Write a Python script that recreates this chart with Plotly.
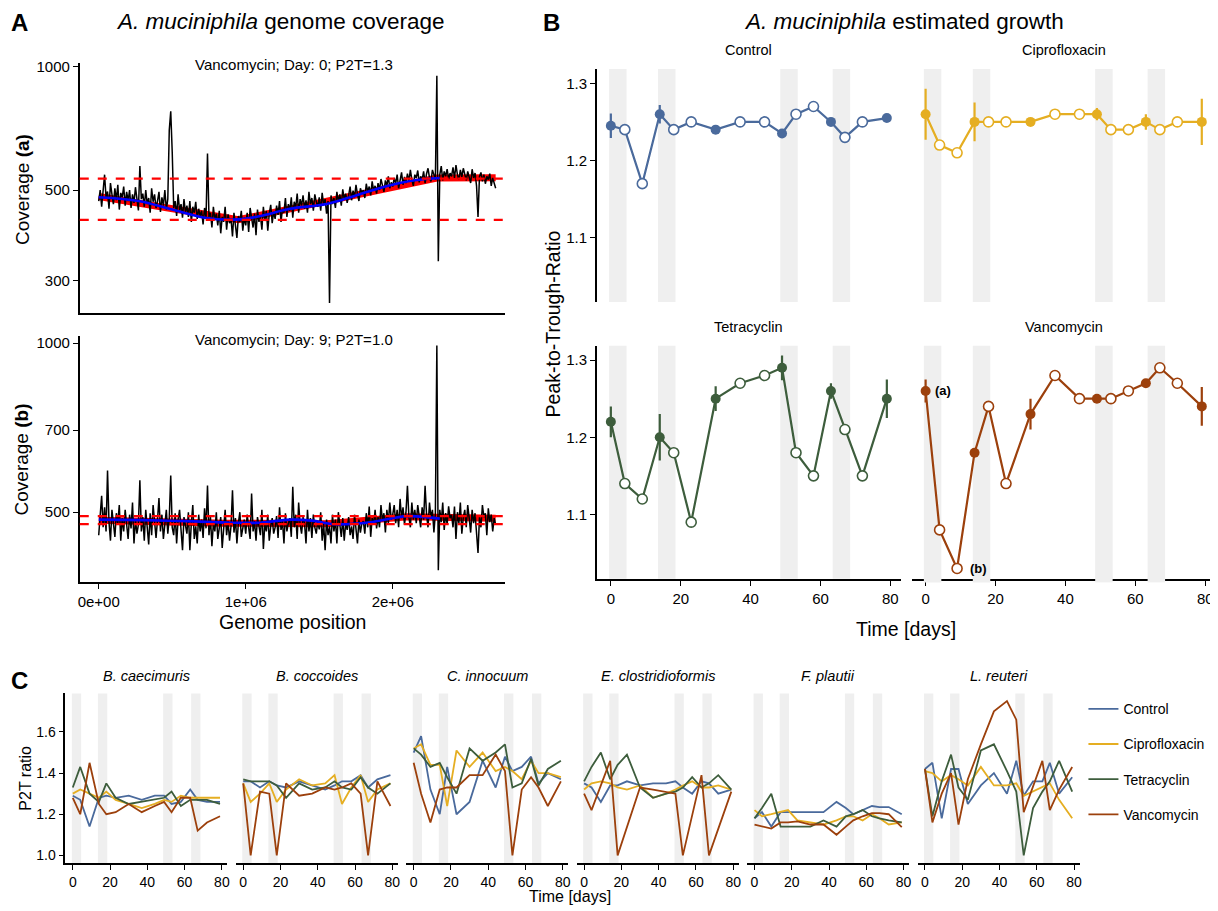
import plotly.graph_objects as go

# ======================= DATA =======================
# ---- Panel A: genome coverage (bins of 10 kb) ----
genome_pos = list(range(0, 2710000, 10000))
coverage_day0 = [
    470, 500, 455, 512, 545, 478, 496, 450, 520, 488,
    462, 505, 472, 515, 448, 492, 480, 510, 458, 495,
    470, 500, 452, 488, 465, 508, 472, 446, 572, 475,
    490, 455, 500, 462, 478, 440, 505, 468, 488, 452,
    470, 495, 442, 480, 458, 500, 448, 475, 700, 778,
    620, 452, 470, 432, 488, 445, 462, 428, 475, 440,
    458, 430, 470, 418, 455, 440, 468, 425, 450, 432,
    445, 412, 452, 428, 614, 430, 440, 405, 455, 422,
    438, 410, 445, 392, 430, 418, 455, 400, 436, 415,
    425, 385, 440, 410, 382, 432, 418, 445, 398, 428,
    410, 440, 395, 452, 425, 405, 438, 388, 448, 418,
    432, 400, 455, 420, 445, 398, 438, 460, 415, 442,
    425, 458, 435, 470, 418, 450, 440, 478, 430, 462,
    445, 480, 428, 468, 452, 490, 440, 475, 458, 485,
    450, 472, 440, 495, 462, 478, 445, 488, 468, 455,
    480, 445, 492, 460, 475, 438, 470, 265, 485, 462,
    478, 452, 495, 468, 488, 458, 502, 475, 490, 465,
    485, 510, 472, 498, 480, 515, 488, 470, 505, 492,
    500, 478, 518, 495, 510, 485, 525, 498, 512, 490,
    520, 500, 532, 508, 495, 528, 512, 540, 505, 522,
    510, 535, 518, 545, 505, 528, 552, 515, 538, 520,
    548, 525, 560, 530, 512, 545, 535, 558, 522, 540,
    530, 555, 520, 548, 565, 535, 525, 560, 540, 530,
    950, 335, 545, 572, 528, 555, 540, 562, 532, 550,
    540, 568, 535, 575, 545, 530, 560, 538, 565, 548,
    528, 555, 540, 520, 562, 535, 550, 512, 430, 540,
    552, 525, 545, 518, 540, 530, 548, 512, 535, 520,
    505]
coverage_day9 = [
    455, 498, 535, 470, 510, 462, 593, 480, 445, 505,
    470, 452, 498, 478, 515, 445, 488, 462, 505, 472,
    448, 495, 468, 520, 440, 485, 458, 475, 570, 462,
    490, 445, 505, 470, 438, 498, 455, 515, 472, 450,
    485, 530, 462, 495, 448, 478, 505, 458, 488, 581,
    470, 455, 498, 440, 485, 505, 462, 428, 490, 470,
    458, 500, 428, 478, 515, 448, 472, 440, 495, 462,
    485, 450, 508, 468, 558, 455, 490, 435, 478, 462,
    500, 448, 475, 490, 432, 468, 505, 455, 482, 445,
    472, 547, 460, 488, 440, 478, 500, 452, 470, 485,
    458, 495, 470, 448, 540, 462, 482, 445, 490, 470,
    455, 505, 430, 478, 462, 495, 445, 472, 488, 458,
    470, 492, 450, 510, 465, 482, 440, 498, 462, 478,
    488, 452, 555, 470, 495, 448, 520, 475, 458, 490,
    478, 440, 505, 462, 488, 450, 495, 470, 458, 482,
    466, 500, 445, 478, 428, 485, 455, 472, 440, 495,
    462, 485, 440, 500, 470, 452, 488, 445, 478, 465,
    490, 455, 472, 448, 495, 468, 440, 485, 460, 478,
    482, 458, 498, 470, 512, 452, 488, 475, 505, 468,
    490, 470, 515, 482, 498, 460, 505, 478, 520, 485,
    495, 515, 478, 505, 470, 528, 488, 510, 475, 500,
    557, 490, 470, 520, 485, 505, 478, 515, 492, 470,
    510, 485, 557, 495, 470, 520, 488, 505, 460, 498,
    990, 394, 505, 480, 520, 465, 498, 475, 512, 488,
    495, 470, 512, 448, 500, 478, 520, 458, 490, 505,
    470, 515, 488, 460, 505, 478, 498, 452, 423, 490,
    470, 515, 490, 498, 455, 508, 480, 495, 462, 488,
    475]
smooth_pos_day0 = [0, 270000, 500000, 720000, 950000, 1100000, 1300000, 1550000, 1750000, 1950000, 2150000, 2320000]
smooth_day0 = [480, 470, 448, 428, 424, 432, 450, 462, 485, 510, 528, 535]
fit_pos_day0 = [0, 950000, 2300000, 2700000]
fit_day0 = [482, 423, 535, 536]
peak_trough_day0 = [533, 423]
smooth_pos_day9 = [0, 300000, 600000, 900000, 1100000, 1300000, 1450000, 1600000, 1850000, 2100000, 2320000]
smooth_day9 = [485, 484, 482, 479, 479, 485, 483, 476, 480, 492, 487]
fit_pos_day9 = [0, 850000, 1550000, 2100000, 2700000]
fit_day9 = [484, 478, 477, 491, 488]
peak_trough_day9 = [492, 476]
sample_labels = ["Vancomycin; Day: 0; P2T=1.3", "Vancomycin; Day: 9; P2T=1.0"]
cov_ticks_a = [300, 500, 1000]
cov_ticks_b = [500, 700, 1000]
pos_ticks = [0, 1000000, 2000000]
pos_ticktext = ["0e+00", "1e+06", "2e+06"]

# ---- Panel B: A. muciniphila P2T per treatment ----
days = [0, 4, 9, 14, 18, 23, 30, 37, 44, 49, 53, 58, 63, 67, 72, 79]
replicated = [1, 0, 0, 1, 0, 0, 1, 0, 0, 1, 0, 0, 1, 0, 0, 1]
ctrl_p2t = [1.245, 1.24, 1.17, 1.26, 1.24, 1.25, 1.24, 1.25, 1.25, 1.235, 1.26, 1.27, 1.25, 1.23, 1.25, 1.255]
ctrl_err = [0.016, 0, 0, 0.012, 0, 0, 0.004, 0, 0, 0.005, 0, 0, 0.004, 0, 0, 0.004]
cipro_p2t = [1.26, 1.22, 1.21, 1.25, 1.25, 1.25, 1.25, 1.26, 1.26, 1.26, 1.24, 1.24, 1.25, 1.24, 1.25, 1.25]
cipro_err = [0.033, 0, 0, 0.025, 0, 0, 0.004, 0, 0, 0.008, 0, 0, 0.01, 0, 0, 0.03]
tetra_p2t = [1.22, 1.14, 1.12, 1.20, 1.18, 1.09, 1.25, 1.27, 1.28, 1.29, 1.18, 1.15, 1.26, 1.21, 1.15, 1.25]
tetra_err = [0.02, 0, 0, 0.03, 0, 0, 0.016, 0, 0, 0.016, 0, 0, 0.01, 0, 0, 0.025]
vanco_p2t = [1.26, 1.08, 1.03, 1.18, 1.24, 1.14, 1.23, 1.28, 1.25, 1.25, 1.25, 1.26, 1.27, 1.29, 1.27, 1.24]
vanco_err = [0.015, 0, 0, 0.005, 0, 0, 0.02, 0, 0, 0.004, 0, 0, 0.004, 0, 0, 0.025]
treatments = ["Control", "Ciprofloxacin", "Tetracyclin", "Vancomycin"]
colors = ["#4A6A9C", "#E5AE22", "#3D5D3C", "#9C400C"]
band_start = [-0.5, 13.5, 48.5, 63.5]
band_end = [4.5, 18.5, 53.5, 68.5]
b_yticks = [1.1, 1.2, 1.3]
day_ticks = [0, 20, 40, 60, 80]

# ---- Panel C: other species P2T ----
species = ["B. caecimuris", "B. coccoides", "C. innocuum", "E. clostridioformis", "F. plautii", "L. reuteri"]
bcaec_ctrl = [1.29, 1.27, 1.14, 1.28, 1.29, 1.28, 1.29, 1.27, 1.29, 1.29, 1.25, 1.26, 1.32, 1.27, 1.26, 1.26]
bcaec_cipro = [1.30, 1.32, 1.30, 1.28, 1.31, 1.27, 1.25, 1.23, 1.25, 1.27, 1.26, 1.29, 1.28, 1.28, 1.28, 1.28]
bcaec_tetra = [1.33, 1.43, 1.30, 1.26, 1.35, 1.28, 1.25, 1.26, 1.27, 1.28, 1.31, 1.24, 1.27, 1.27, 1.27, 1.25]
bcaec_vanco = [1.28, 1.20, 1.45, 1.25, 1.20, 1.21, 1.25, 1.21, 1.24, 1.26, 1.21, 1.28, 1.28, 1.12, 1.16, 1.19]
bcocc_ctrl = [1.36, 1.36, 1.33, 1.36, 1.34, 1.33, 1.36, 1.34, 1.32, 1.34, 1.36, 1.36, 1.39, 1.33, 1.37, 1.39]
bcocc_cipro = [1.35, 1.26, 1.30, 1.35, 1.26, 1.32, 1.37, 1.34, 1.35, 1.39, 1.25, 1.33, 1.39, 1.26, 1.32, 1.35]
bcocc_tetra = [1.37, 1.36, 1.36, 1.36, 1.34, 1.28, 1.35, 1.32, 1.33, 1.36, 1.33, 1.32, 1.38, 1.33, 1.30, 1.35]
bcocc_vanco = [1.35, 1.00, 1.31, 1.30, 1.00, 1.35, 1.29, 1.30, 1.33, 1.32, 1.33, 1.35, 1.30, 1.00, 1.36, 1.24]
cinno_ctrl = [1.50, 1.58, 1.32, 1.20, 1.43, 1.20, 1.26, 1.46, 1.33, 1.48, 1.41, 1.43, 1.48, 1.35, 1.40, 1.37]
cinno_cipro = [1.52, 1.54, 1.44, 1.44, 1.24, 1.51, 1.43, 1.50, 1.41, 1.43, 1.41, 1.37, 1.46, 1.40, 1.40, 1.38]
cinno_tetra = [1.52, 1.49, 1.43, 1.45, 1.38, 1.30, 1.52, 1.46, 1.50, 1.54, 1.33, 1.35, 1.47, 1.34, 1.42, 1.46]
cinno_vanco = [1.45, 1.30, 1.16, 1.32, 1.33, 1.33, 1.39, 1.39, 1.49, 1.41, 1.00, 1.32, 1.38, 1.33, 1.24, 1.36]
eclos_ctrl = [1.35, 1.33, 1.26, 1.34, 1.34, 1.36, 1.34, 1.35, 1.35, 1.36, 1.33, 1.30, 1.36, 1.35, 1.30, 1.32]
eclos_cipro = [1.32, 1.35, 1.36, 1.35, 1.33, 1.32, 1.34, 1.28, 1.30, 1.32, 1.34, 1.36, 1.33, 1.33, 1.34, 1.32]
eclos_tetra = [1.36, 1.43, 1.50, 1.37, 1.44, 1.49, 1.33, 1.28, 1.30, 1.31, 1.33, 1.38, 1.33, 1.35, 1.39, 1.32]
eclos_vanco = [1.30, 1.22, 1.34, 1.46, 1.00, 1.14, 1.33, 1.32, 1.31, 1.30, 1.00, 1.20, 1.39, 1.00, 1.13, 1.31]
fplau_ctrl = [1.18, 1.21, 1.14, 1.21, 1.21, 1.21, 1.21, 1.21, 1.26, 1.23, 1.20, 1.22, 1.24, 1.235, 1.235, 1.20]
fplau_cipro = [1.22, 1.19, 1.20, 1.21, 1.22, 1.17, 1.16, 1.15, 1.17, 1.19, 1.19, 1.17, 1.20, 1.18, 1.15, 1.16]
fplau_tetra = [1.18, 1.23, 1.30, 1.14, 1.14, 1.14, 1.14, 1.17, 1.14, 1.19, 1.20, 1.22, 1.19, 1.18, 1.17, 1.16]
fplau_vanco = [1.15, 1.14, 1.13, 1.16, 1.16, 1.165, 1.15, 1.15, 1.10, 1.14, 1.17, 1.19, 1.205, 1.205, 1.20, 1.137]
lreut_ctrl = [1.42, 1.45, 1.18, 1.42, 1.42, 1.25, 1.34, 1.40, 1.30, 1.46, 1.29, 1.36, 1.36, 1.45, 1.30, 1.38]
lreut_cipro = [1.41, 1.40, 1.36, 1.39, 1.37, 1.34, 1.43, 1.34, 1.34, 1.35, 1.29, 1.31, 1.33, 1.35, 1.27, 1.18]
lreut_tetra = [1.42, 1.19, 1.36, 1.49, 1.33, 1.27, 1.51, 1.54, 1.41, 1.31, 1.00, 1.23, 1.31, 1.36, 1.46, 1.31]
lreut_vanco = [1.42, 1.16, 1.30, 1.40, 1.15, 1.37, 1.54, 1.70, 1.75, 1.66, 1.21, 1.33, 1.46, 1.22, 1.32, 1.43]
c_yticks = [1.0, 1.2, 1.4, 1.6]

# ======================= FIGURE =======================
# Layout positions are given in page pixels; the page body has an 8 px margin.
OFF = 8
W, H = 1218 - OFF, 911 - OFF
FONT = "Liberation Sans, Arial, Helvetica, sans-serif"
BAND = "#EFEFEF"


def xdom(l, r):
    return [(l - OFF) / W, (r - OFF) / W]


def ydom(t, b):
    return [1 - (b - OFF) / H, 1 - (t - OFF) / H]


def axis(**kw):
    d = dict(showgrid=False, zeroline=False, showline=True, linecolor="black", linewidth=1.8,
             ticks="outside", ticklen=5, tickwidth=1.4, tickcolor="black",
             tickfont=dict(size=15, color="black"), layer="above traces")
    d.update(kw)
    return d


def hidden_axis(**kw):
    d = dict(showgrid=False, zeroline=False, showline=False, ticks="", showticklabels=False)
    d.update(kw)
    return d


fig = go.Figure()
layout = {}
shapes = []
annotations = []


def ann(text, x, y, size, xref="paper", yref="paper", angle=0, xanchor="center", yanchor="middle"):
    if xref == "paper":
        x = (x - OFF) / W
    if yref == "paper":
        y = 1 - (y - OFF) / H
    annotations.append(dict(text=text, x=x, y=y, xref=xref, yref=yref, showarrow=False,
                            font=dict(size=size, color="black", family=FONT), textangle=angle,
                            xanchor=xanchor, yanchor=yanchor))


# ---------------- Panel A ----------------
A_x = (78, 505)
A_rows = [(58, 310), (333, 580)]
A_yrange = [[2.398, 3.0097], [2.575, 3.0124]]
covs = [coverage_day0, coverage_day9]
smooth_pos = [smooth_pos_day0, smooth_pos_day9]
smooth = [smooth_day0, smooth_day9]
fit_pos = [fit_pos_day0, fit_pos_day9]
fit = [fit_day0, fit_day9]
pt = [peak_trough_day0, peak_trough_day9]
cov_ticks = [cov_ticks_a, cov_ticks_b]
for i in range(2):
    n = "" if i == 0 else "2"
    xa, ya = "x" + n, "y" + n
    for lvl in pt[i]:
        shapes.append(dict(type="line", xref=xa + " domain", yref=ya, x0=0, x1=1, y0=lvl, y1=lvl,
                           line=dict(color="red", width=2.2, dash="dash"), layer="above"))
    fig.add_trace(go.Scatter(x=fit_pos[i], y=fit[i], mode="lines", xaxis=xa, yaxis=ya,
                             line=dict(color="red", width=7), showlegend=False, hoverinfo="skip"))
    fig.add_trace(go.Scatter(x=genome_pos, y=covs[i], mode="lines", xaxis=xa, yaxis=ya,
                             line=dict(color="black", width=1.5), showlegend=False))
    fig.add_trace(go.Scatter(x=smooth_pos[i], y=smooth[i], mode="lines", xaxis=xa, yaxis=ya,
                             line=dict(color="blue", width=2.6, shape="spline"), showlegend=False))
    xkw = dict(domain=xdom(*A_x), range=[-128800, 2766000], anchor=ya)
    if i == 0:
        layout["xaxis"] = axis(ticks="", showticklabels=False, **xkw)
    else:
        layout["xaxis2"] = axis(tickvals=pos_ticks, ticktext=pos_ticktext, **xkw)
    layout["yaxis" + n] = axis(domain=ydom(*A_rows[i]), type="log", range=A_yrange[i], anchor=xa,
                               tickvals=cov_ticks[i], ticktext=[str(t) for t in cov_ticks[i]])
    ann(sample_labels[i], 293, A_rows[i][0] + 2 if i == 0 else A_rows[i][0] + 3, 15)

ann("Coverage <b>(a)</b>", 20, 185, 19, angle=-90)
ann("Coverage <b>(b)</b>", 20, 457, 19, angle=-90)
ann("Genome position", 291, 620, 19.5)

# ---------------- Panel B ----------------
B_cols = [(597, 901.6), (912.8, 1217.6)]
B_rows = [(64.2, 298.5), (342.5, 576.8)]
B_yr = [1.0168, 1.3187]
B_xr = [-3.95, 82.95]
b_vals = [ctrl_p2t, cipro_p2t, tetra_p2t, vanco_p2t]
b_errs = [ctrl_err, cipro_err, tetra_err, vanco_err]
for k in range(4):
    r, c = divmod(k, 2)
    n = str(3 + k)
    xa, ya = "x" + n, "y" + n
    col = colors[k]
    vals, errs = b_vals[k], b_errs[k]
    for s, e in zip(band_start, band_end):
        shapes.append(dict(type="rect", xref=xa, yref=ya + " domain", x0=s, x1=e, y0=0, y1=1,
                           fillcolor=BAND, line=dict(width=0), layer="below"))
        if k == 3:
            shapes.append(dict(type="rect", xref=xa, yref=ya + " domain", x0=s, x1=e, y0=-0.016, y1=0.008,
                               fillcolor=BAND, line=dict(width=0), layer="above"))
    fig.add_trace(go.Scatter(x=days, y=vals, mode="lines", xaxis=xa, yaxis=ya,
                             line=dict(color=col, width=2.2), showlegend=False))
    od = [d for d, f in zip(days, replicated) if not f]
    ov = [v for v, f in zip(vals, replicated) if not f]
    fig.add_trace(go.Scatter(x=od, y=ov, mode="markers", xaxis=xa, yaxis=ya, showlegend=False,
                             marker=dict(symbol="circle", size=10, color="white",
                                         line=dict(color=col, width=1.6))))
    fd = [d for d, f in zip(days, replicated) if f]
    fv = [v for v, f in zip(vals, replicated) if f]
    fe = [e for e, f in zip(errs, replicated) if f]
    fig.add_trace(go.Scatter(x=fd, y=fv, mode="markers", xaxis=xa, yaxis=ya, showlegend=False,
                             marker=dict(symbol="circle", size=10, color=col),
                             error_y=dict(type="data", array=fe, visible=True, width=0,
                                          thickness=2.2, color=col)))
    if r == 1:
        layout["xaxis" + n] = axis(domain=xdom(*B_cols[c]), range=B_xr, anchor=ya, tickvals=day_ticks)
    else:
        layout["xaxis" + n] = hidden_axis(domain=xdom(*B_cols[c]), range=B_xr, anchor=ya)
    if c == 0:
        layout["yaxis" + n] = axis(domain=ydom(*B_rows[r]), range=B_yr, anchor=xa,
                                   tickvals=b_yticks, tickformat=".1f")
    else:
        layout["yaxis" + n] = hidden_axis(domain=ydom(*B_rows[r]), range=B_yr, anchor=xa)
    ann(treatments[k], (B_cols[c][0] + B_cols[c][1]) / 2, B_rows[r][0] - 19, 14.5)

ann("<b>(a)</b>", 2.2, vanco_p2t[0], 13, xref="x6", yref="y6", xanchor="left")
ann("<b>(b)</b>", 12.0, vanco_p2t[2], 13, xref="x6", yref="y6", xanchor="left")
ann("Peak-to-Trough-Ratio", 553, 321, 19.5, angle=-90)
ann("Time [days]", 907, 627, 19.5)

# ---------------- Panel C ----------------
c_series = [
    [bcaec_ctrl, bcaec_cipro, bcaec_tetra, bcaec_vanco],
    [bcocc_ctrl, bcocc_cipro, bcocc_tetra, bcocc_vanco],
    [cinno_ctrl, cinno_cipro, cinno_tetra, cinno_vanco],
    [eclos_ctrl, eclos_cipro, eclos_tetra, eclos_vanco],
    [fplau_ctrl, fplau_cipro, fplau_tetra, fplau_vanco],
    [lreut_ctrl, lreut_cipro, lreut_tetra, lreut_vanco],
]
C_row = (692.2, 862.8)
C_yr = [0.9625, 1.7875]
for i in range(6):
    n = str(7 + i)
    xa, ya = "x" + n, "y" + n
    left = 63.6 + 171 * i
    right = left + 162.5
    for s, e in zip(band_start, band_end):
        shapes.append(dict(type="rect", xref=xa, yref=ya + " domain", x0=s, x1=e, y0=0, y1=1,
                           fillcolor=BAND, line=dict(width=0), layer="below"))
    for k in range(4):
        fig.add_trace(go.Scatter(x=days, y=c_series[i][k], mode="lines", xaxis=xa, yaxis=ya,
                                 line=dict(color=colors[k], width=1.8), name=treatments[k],
                                 legendgroup=treatments[k], showlegend=(i == 0)))
    layout["xaxis" + n] = axis(domain=xdom(left, right), range=B_xr, anchor=ya, tickvals=day_ticks,
                               tickfont=dict(size=14, color="black"))
    if i == 0:
        layout["yaxis" + n] = axis(domain=ydom(*C_row), range=C_yr, anchor=xa, tickvals=c_yticks,
                                   tickformat=".1f", tickfont=dict(size=14, color="black"))
    else:
        layout["yaxis" + n] = hidden_axis(domain=ydom(*C_row), range=C_yr, anchor=xa)
    ann("<i>" + species[i] + "</i>", (left + right) / 2, 675, 14.5)

ann("P2T ratio", 24, 777, 16, angle=-90)
ann("Time [days]", 570, 896, 16)

# ---------------- Panel labels / titles ----------------
ann("<b>A</b>", 18, 18, 24)
ann("<b>B</b>", 551, 18, 24)
ann("<b>C</b>", 18, 679, 24)
ann("<i>A. muciniphila</i> genome coverage", 279, 17, 22.5)
ann("<i>A. muciniphila</i> estimated growth", 905, 17, 22.5)

fig.update_layout(
    width=W, height=H, margin=dict(l=0, r=0, t=0, b=0),
    plot_bgcolor="white", paper_bgcolor="white",
    font=dict(family=FONT, color="black"),
    shapes=shapes, annotations=annotations,
    legend=dict(x=(1085 - OFF) / W, y=1 - (692 - OFF) / H, xanchor="left", yanchor="top",
                font=dict(size=14, color="black"), tracegroupgap=14,
                bgcolor="rgba(0,0,0,0)", traceorder="grouped"),
    **layout,
)
fig.write_html("out.html")
